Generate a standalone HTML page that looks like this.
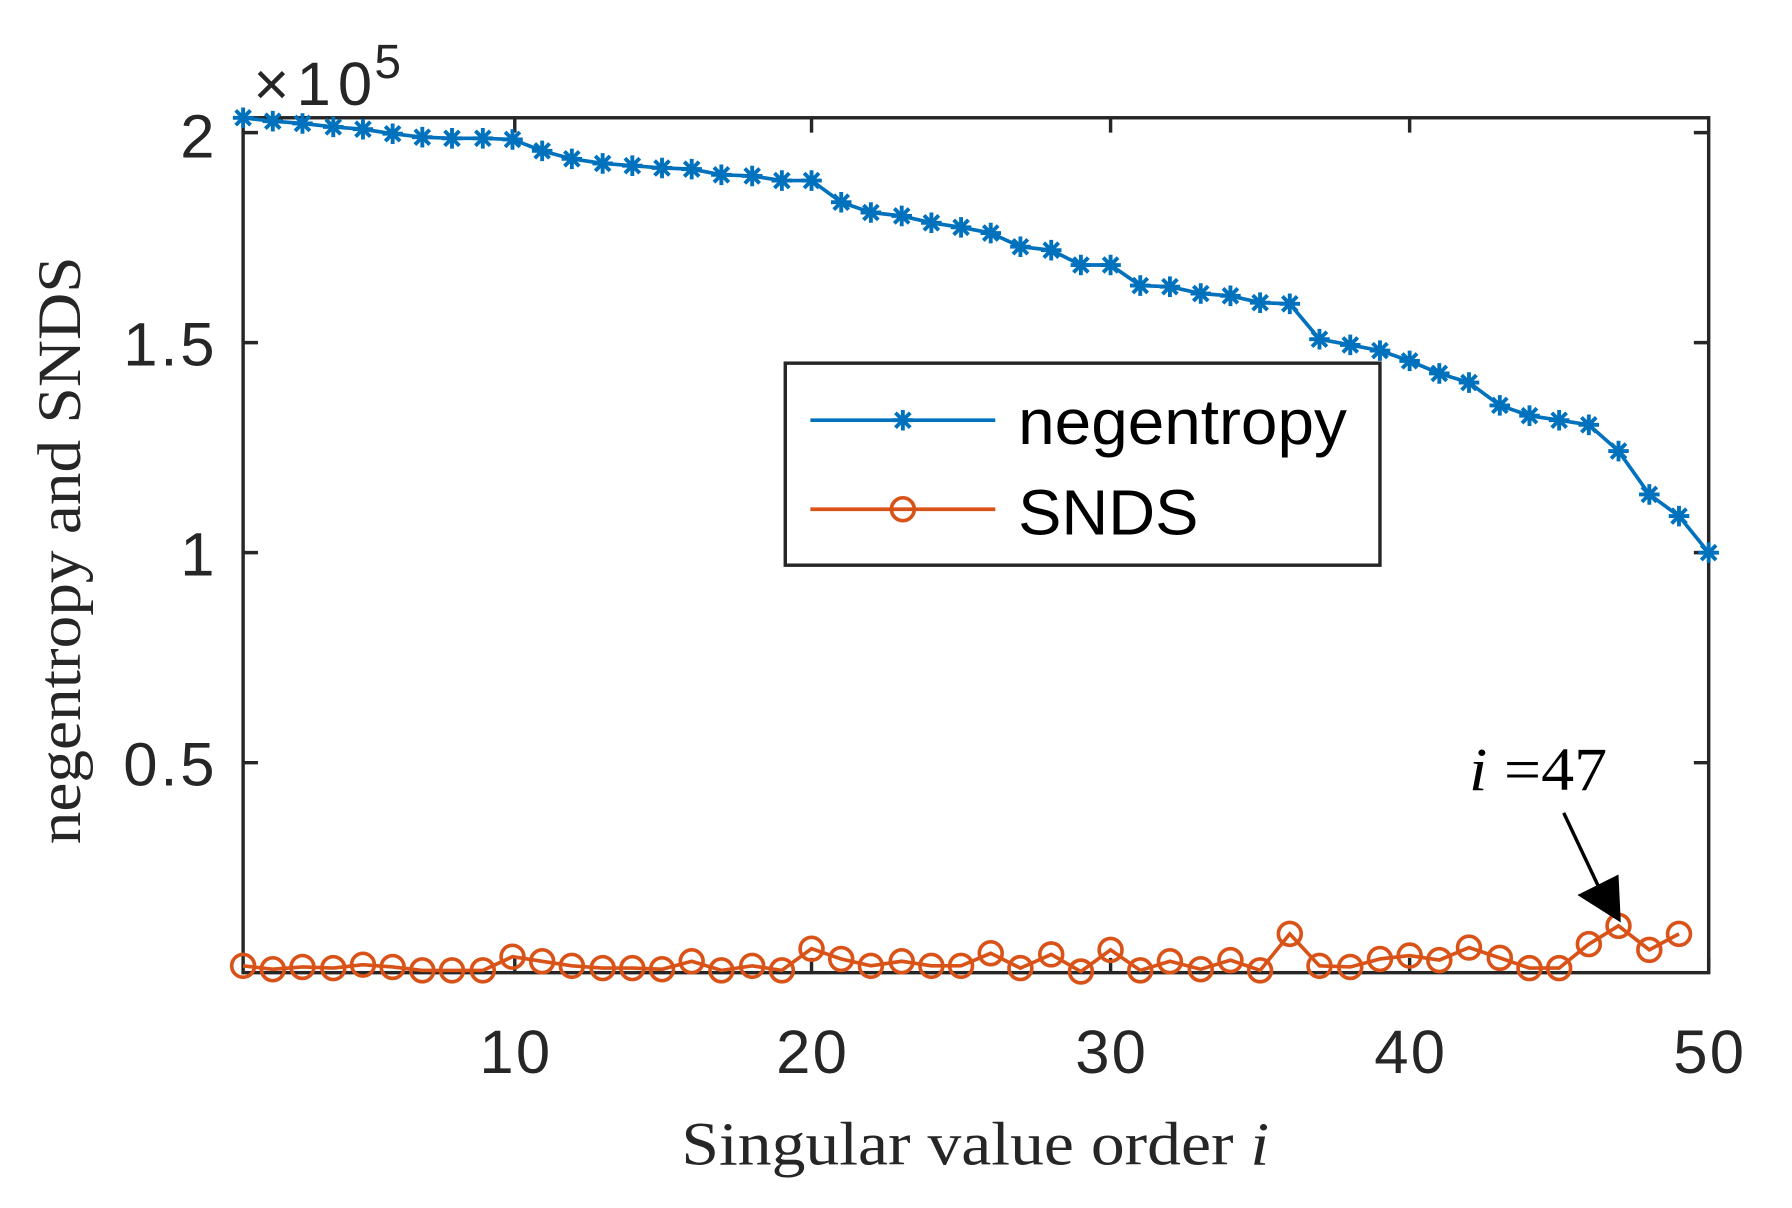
<!DOCTYPE html>
<html><head><meta charset="utf-8"><style>html,body{margin:0;padding:0;background:#fff}svg{display:block}</style></head>
<body>
<svg width="1792" height="1208" viewBox="0 0 1570 1058" xmlns="http://www.w3.org/2000/svg">
<defs>
<g id="st"><path d="M-9,0H9M0,-9V9M-6.5,-6.5L6.5,6.5M-6.5,6.5L6.5,-6.5" stroke="#0072BD" stroke-width="3.4" fill="none"/></g>
</defs>
<rect x="213" y="103" width="1284" height="749" fill="#fff" stroke="#262626" stroke-width="3"/>
<g stroke="#262626" stroke-width="3">
<path d="M451,852v-13M711,852v-13M973,852v-13M1235,852v-13M1497,852v-13"/>
<path d="M451,103v13M711,103v13M973,103v13M1235,103v13"/>
<path d="M213,116h13M213,300h13M213,484h13M213,668h13M1497,116h-13M1497,300h-13M1497,484h-13M1497,668h-13"/>
</g>
<g font-family="Liberation Sans, sans-serif" font-size="54" fill="#262626">
<text x="188" y="138" text-anchor="end">2</text>
<text x="188" y="320" text-anchor="end" textLength="80">1.5</text>
<text x="188" y="504" text-anchor="end">1</text>
<text x="188" y="688" text-anchor="end" textLength="80">0.5</text>
<text x="451" y="940" text-anchor="middle" textLength="62">10</text>
<text x="711" y="940" text-anchor="middle" textLength="62">20</text>
<text x="973" y="940" text-anchor="middle" textLength="62">30</text>
<text x="1235" y="940" text-anchor="middle" textLength="62">40</text>
<text x="1497" y="940" text-anchor="middle" textLength="62">50</text>
<text x="222" y="92" textLength="104">×10</text>
<text x="328" y="68" font-size="42">5</text>
</g>
<text x="597" y="1020" textLength="515" lengthAdjust="spacingAndGlyphs" font-family="Liberation Serif, serif" font-size="54" fill="#262626">Singular value order  <tspan font-style="italic">i</tspan></text>
<text transform="translate(70,482) rotate(-90)" text-anchor="middle" textLength="515" lengthAdjust="spacingAndGlyphs" font-family="Liberation Serif, serif" font-size="54" fill="#262626">negentropy and SNDS</text>
<polyline fill="none" stroke="#0072BD" stroke-width="3.2" points="213,103 239,106 265,108 292,111 318,113 344,117 370,120 396,121 423,121 449,122 475,132 501,139 528,143 554,145 580,147 606,148 632,153 659,154 685,158 711,158 737,177 763,186 790,189 816,195 842,199 868,204 894,216 921,219 947,232 973,232 999,250 1025,251 1052,257 1078,259 1104,265 1130,266 1156,297 1183,302 1209,307 1235,316 1261,327 1287,335 1314,355 1340,364 1366,368 1392,372 1418,395 1445,433 1471,452 1497,484"/>
<g>
<use href="#st" x="213" y="103"/><use href="#st" x="239" y="106"/><use href="#st" x="265" y="108"/><use href="#st" x="292" y="111"/><use href="#st" x="318" y="113"/><use href="#st" x="344" y="117"/><use href="#st" x="370" y="120"/><use href="#st" x="396" y="121"/><use href="#st" x="423" y="121"/><use href="#st" x="449" y="122"/><use href="#st" x="475" y="132"/><use href="#st" x="501" y="139"/><use href="#st" x="528" y="143"/><use href="#st" x="554" y="145"/><use href="#st" x="580" y="147"/><use href="#st" x="606" y="148"/><use href="#st" x="632" y="153"/><use href="#st" x="659" y="154"/><use href="#st" x="685" y="158"/><use href="#st" x="711" y="158"/><use href="#st" x="737" y="177"/><use href="#st" x="763" y="186"/><use href="#st" x="790" y="189"/><use href="#st" x="816" y="195"/><use href="#st" x="842" y="199"/><use href="#st" x="868" y="204"/><use href="#st" x="894" y="216"/><use href="#st" x="921" y="219"/><use href="#st" x="947" y="232"/><use href="#st" x="973" y="232"/><use href="#st" x="999" y="250"/><use href="#st" x="1025" y="251"/><use href="#st" x="1052" y="257"/><use href="#st" x="1078" y="259"/><use href="#st" x="1104" y="265"/><use href="#st" x="1130" y="266"/><use href="#st" x="1156" y="297"/><use href="#st" x="1183" y="302"/><use href="#st" x="1209" y="307"/><use href="#st" x="1235" y="316"/><use href="#st" x="1261" y="327"/><use href="#st" x="1287" y="335"/><use href="#st" x="1314" y="355"/><use href="#st" x="1340" y="364"/><use href="#st" x="1366" y="368"/><use href="#st" x="1392" y="372"/><use href="#st" x="1418" y="395"/><use href="#st" x="1445" y="433"/><use href="#st" x="1471" y="452"/><use href="#st" x="1497" y="484"/>
</g>
<g fill="none" stroke="#D95319" stroke-width="3.2">
<polyline points="213,846 239,849 265,847 292,848 318,845 344,847 370,850 396,850 423,850 449,838 475,842 501,846 528,848 554,848 580,849 606,842 632,850 659,846 685,850 711,831 737,840 763,846 790,842 816,846 842,846 868,835 894,848 921,836 947,851 973,832 999,850 1025,842 1052,849 1078,841 1104,850 1130,818 1156,846 1183,847 1209,840 1235,837 1261,841 1287,830 1314,839 1340,848 1366,848 1392,827 1418,811 1445,832 1471,818"/>
<g>
<circle cx="213" cy="846" r="10"/><circle cx="239" cy="849" r="10"/><circle cx="265" cy="847" r="10"/><circle cx="292" cy="848" r="10"/><circle cx="318" cy="845" r="10"/><circle cx="344" cy="847" r="10"/><circle cx="370" cy="850" r="10"/><circle cx="396" cy="850" r="10"/><circle cx="423" cy="850" r="10"/><circle cx="449" cy="838" r="10"/><circle cx="475" cy="842" r="10"/><circle cx="501" cy="846" r="10"/><circle cx="528" cy="848" r="10"/><circle cx="554" cy="848" r="10"/><circle cx="580" cy="849" r="10"/><circle cx="606" cy="842" r="10"/><circle cx="632" cy="850" r="10"/><circle cx="659" cy="846" r="10"/><circle cx="685" cy="850" r="10"/><circle cx="711" cy="831" r="10"/><circle cx="737" cy="840" r="10"/><circle cx="763" cy="846" r="10"/><circle cx="790" cy="842" r="10"/><circle cx="816" cy="846" r="10"/><circle cx="842" cy="846" r="10"/><circle cx="868" cy="835" r="10"/><circle cx="894" cy="848" r="10"/><circle cx="921" cy="836" r="10"/><circle cx="947" cy="851" r="10"/><circle cx="973" cy="832" r="10"/><circle cx="999" cy="850" r="10"/><circle cx="1025" cy="842" r="10"/><circle cx="1052" cy="849" r="10"/><circle cx="1078" cy="841" r="10"/><circle cx="1104" cy="850" r="10"/><circle cx="1130" cy="818" r="10"/><circle cx="1156" cy="846" r="10"/><circle cx="1183" cy="847" r="10"/><circle cx="1209" cy="840" r="10"/><circle cx="1235" cy="837" r="10"/><circle cx="1261" cy="841" r="10"/><circle cx="1287" cy="830" r="10"/><circle cx="1314" cy="839" r="10"/><circle cx="1340" cy="848" r="10"/><circle cx="1366" cy="848" r="10"/><circle cx="1392" cy="827" r="10"/><circle cx="1418" cy="811" r="10"/><circle cx="1445" cy="832" r="10"/><circle cx="1471" cy="818" r="10"/>
</g>
</g>
<rect x="688" y="318" width="521" height="177" fill="#fff" stroke="#262626" stroke-width="3"/>
<line x1="710" y1="368" x2="872" y2="368" stroke="#0072BD" stroke-width="3.2"/>
<use href="#st" x="791" y="368"/>
<line x1="710" y1="446" x2="872" y2="446" stroke="#D95319" stroke-width="3.2"/>
<circle cx="791" cy="446" r="10" fill="none" stroke="#D95319" stroke-width="3.2"/>
<g font-family="Liberation Sans, sans-serif" font-size="56" fill="#000">
<text x="892" y="389" textLength="288" lengthAdjust="spacingAndGlyphs">negentropy</text>
<text x="892" y="468" textLength="158" lengthAdjust="spacingAndGlyphs">SNDS</text>
</g>
<text x="1287" y="692" textLength="121" lengthAdjust="spacingAndGlyphs" font-family="Liberation Serif, serif" font-size="54" fill="#000"><tspan font-style="italic">i</tspan> =47</text>
<line x1="1370" y1="712" x2="1404" y2="784" stroke="#000" stroke-width="3"/>
<polygon points="1382,784 1418,766 1420,808" fill="#000"/>
</svg>
</body></html>
